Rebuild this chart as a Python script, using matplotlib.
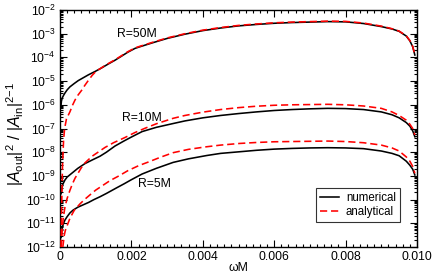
import numpy as np
import matplotlib
matplotlib.use("Agg")
import matplotlib.pyplot as plt
from matplotlib.ticker import MultipleLocator, LogLocator, NullFormatter
from matplotlib.lines import Line2D

plt.rcParams['font.family'] = ['Liberation Sans', 'DejaVu Sans']
plt.rcParams['mathtext.fontset'] = 'custom'
plt.rcParams['mathtext.rm'] = 'Liberation Sans'
plt.rcParams['mathtext.it'] = 'Liberation Sans:italic'

# ---- data (log10 values) ----
x50_num = [0.00003, 0.00004, 0.00006, 0.0001, 0.00014, 0.0002, 0.00028, 0.0004, 0.00051,
           0.00065, 0.00079, 0.001, 0.00117, 0.00135, 0.00154, 0.0017, 0.0019, 0.0021,
           0.00224, 0.0026, 0.003, 0.0035, 0.004, 0.0045, 0.005, 0.0055, 0.006, 0.0065,
           0.007, 0.0075, 0.008, 0.0085, 0.009, 0.0093, 0.0095, 0.0097, 0.0098, 0.00988,
           0.00994]
l50_num = [-6.0, -5.85, -5.72, -5.6, -5.5, -5.37, -5.24, -5.1, -4.98,
           -4.86, -4.74, -4.58, -4.44, -4.28, -4.12, -3.97, -3.78, -3.62,
           -3.55, -3.38, -3.2, -3.02, -2.87, -2.76, -2.67, -2.61, -2.56, -2.53,
           -2.51, -2.49, -2.5, -2.57, -2.7, -2.8, -2.9, -3.1, -3.3, -3.55,
           -3.9]
x50_ana = [0.00003, 0.00005, 0.00007, 0.0001, 0.00013, 0.00018, 0.00028, 0.00035, 0.00042,
           0.0005, 0.00061, 0.0007, 0.00079, 0.0009, 0.001, 0.0011, 0.00126, 0.00154,
           0.0017, 0.0019, 0.0021, 0.00224, 0.0026, 0.003, 0.0035, 0.004, 0.0045, 0.005,
           0.0055, 0.006, 0.0065, 0.007, 0.0075, 0.008, 0.0085, 0.009, 0.0093, 0.0095,
           0.0097, 0.0098, 0.00988, 0.00994]
l50_ana = [-12.0, -10.0, -8.6, -7.5, -7.0, -6.6, -6.29, -6.02, -5.8,
           -5.6, -5.38, -5.17, -4.98, -4.76, -4.6, -4.5, -4.34, -4.1,
           -3.95, -3.76, -3.6, -3.53, -3.36, -3.18, -3.0, -2.85, -2.74, -2.65,
           -2.59, -2.54, -2.51, -2.49, -2.47, -2.48, -2.55, -2.68, -2.79, -2.89,
           -3.09, -3.29, -3.54, -3.88]

x10_num = [0.00003, 0.00005, 0.00008, 0.00014, 0.0002, 0.00028, 0.00037, 0.0005, 0.0007,
           0.0009, 0.00112, 0.0013, 0.00154, 0.0018, 0.002, 0.0023, 0.0027, 0.00317,
           0.0035, 0.004, 0.0045, 0.005, 0.0055, 0.006, 0.0065, 0.007, 0.0075, 0.008,
           0.0085, 0.009, 0.0093, 0.0095, 0.0097, 0.0098, 0.00988, 0.00994]
l10_num = [-9.75, -9.55, -9.35, -9.17, -9.05, -8.95, -8.84, -8.68, -8.48,
           -8.33, -8.17, -8.0, -7.74, -7.52, -7.36, -7.13, -6.95, -6.79,
           -6.68, -6.55, -6.45, -6.37, -6.3, -6.24, -6.2, -6.17, -6.15, -6.16,
           -6.2, -6.3, -6.42, -6.55, -6.75, -6.9, -7.1, -7.35]
x10_ana = [0.00004, 0.00006, 0.00009, 0.00014, 0.0002, 0.00028, 0.00035, 0.00042, 0.0005,
           0.0006, 0.0007, 0.0009, 0.00126, 0.0015, 0.00182, 0.0021, 0.00238, 0.0027,
           0.00317, 0.0035, 0.004, 0.0045, 0.005, 0.0055, 0.006, 0.0065, 0.007, 0.0075,
           0.008, 0.0085, 0.009, 0.0093, 0.0095, 0.0097, 0.0098, 0.00988, 0.00994]
l10_ana = [-12.0, -11.3, -10.8, -10.3, -9.95, -9.6, -9.33, -9.1, -8.9,
           -8.65, -8.45, -8.17, -7.8, -7.6, -7.38, -7.17, -6.99, -6.8,
           -6.57, -6.45, -6.31, -6.2, -6.12, -6.06, -6.02, -6.0, -5.99, -5.98,
           -6.0, -6.05, -6.15, -6.3, -6.45, -6.65, -6.82, -7.0, -7.27]

x5_num = [0.00003, 0.00004, 0.00006, 0.0001, 0.00014, 0.0002, 0.00028, 0.00037, 0.0005,
          0.00065, 0.0008, 0.00095, 0.00112, 0.0013, 0.00159, 0.0018, 0.002, 0.0023,
          0.0027, 0.00317, 0.0036, 0.00411, 0.0045, 0.00504, 0.0055, 0.006, 0.0065,
          0.007, 0.0075, 0.008, 0.0085, 0.009, 0.0093, 0.0095, 0.0097, 0.0098, 0.00988,
          0.00994]
l5_num = [-11.6, -11.4, -11.2, -11.0, -10.86, -10.72, -10.56, -10.44, -10.32,
          -10.22, -10.12, -10.0, -9.88, -9.74, -9.5, -9.33, -9.16, -8.92,
          -8.68, -8.43, -8.28, -8.14, -8.05, -7.98, -7.92, -7.87, -7.84,
          -7.82, -7.81, -7.82, -7.85, -7.95, -8.05, -8.15, -8.38, -8.55, -8.72,
          -8.96]
x5_ana = [0.00008, 0.0001, 0.00012, 0.00015, 0.00019, 0.00028, 0.0004, 0.00056, 0.0007,
          0.00084, 0.001, 0.0012, 0.0014, 0.00165, 0.0019, 0.0022, 0.0025, 0.0028,
          0.00317, 0.0036, 0.00411, 0.0045, 0.00504, 0.0055, 0.006, 0.0065, 0.007,
          0.0075, 0.008, 0.0085, 0.009, 0.0093, 0.0095, 0.0097, 0.0098, 0.00988, 0.00994]
l5_ana = [-12.0, -11.75, -11.5, -11.3, -11.14, -10.78, -10.45, -10.18, -9.98,
          -9.8, -9.6, -9.4, -9.2, -9.0, -8.78, -8.57, -8.4, -8.22,
          -8.02, -7.88, -7.77, -7.7, -7.63, -7.59, -7.56, -7.55, -7.54,
          -7.53, -7.55, -7.6, -7.7, -7.82, -7.95, -8.2, -8.38, -8.6, -8.89]

labels = ["R=50M", "R=10M", "R=5M"]
label_pos = [(0.00215, 10**-3.0), (0.00228, 10**-6.55), (0.00265, 10**-9.35)]
xticks = [0, 0.002, 0.004, 0.006, 0.008, 0.010]
xticklabels = ["0", "0.002", "0.004", "0.006", "0.008", "0.010"]

fig = plt.figure(figsize=(4.36, 2.76), dpi=100)
ax = fig.add_axes([60/436, 29/276, 357/436, 237/276])

dash = (0, (4.5, 2.4))
for xn, ln, xa, la in [(x50_num, l50_num, x50_ana, l50_ana),
                       (x10_num, l10_num, x10_ana, l10_ana),
                       (x5_num, l5_num, x5_ana, l5_ana)]:
    ax.plot(xn, 10**np.array(ln), color='black', lw=1.15, zorder=3)
    ax.plot(xa, 10**np.array(la), color='red', lw=1.15, linestyle=dash, zorder=4)

for t, (px, py) in zip(labels, label_pos):
    ax.text(px, py, t, fontsize=8.8, ha='center', va='center')

ax.set_yscale('log')
ax.set_xlim(0, 0.010)
ax.set_ylim(1e-12, 1e-2)
ax.set_xticks(xticks)
ax.set_xticklabels(xticklabels)
ax.xaxis.set_minor_locator(MultipleLocator(0.0002))
ax.yaxis.set_major_locator(LogLocator(base=10, numticks=20))
ax.yaxis.set_minor_locator(LogLocator(base=10, subs=np.arange(2, 10), numticks=20))
ax.yaxis.set_minor_formatter(NullFormatter())
ax.tick_params(which='both', direction='in', top=True, right=True, labelsize=8.8, width=0.8)
ax.tick_params(which='major', length=5, pad=3)
ax.tick_params(which='minor', length=2.5)
for s in ax.spines.values():
    s.set_linewidth(1.0)

fig.text(238/436, 1 - 268/276, 'ωM', fontsize=8.8, ha='center', va='center')
fig.text(15/436, 1 - 134/276,
         r'$|A_{\rm out}|^2\ /\ |A_{\rm in}|^{2\mathrm{-}1}$', fontsize=11.5,
         ha='center', va='center', rotation=90)

handles = [Line2D([], [], color='black', lw=1.15), Line2D([], [], color='red', lw=1.15, linestyle=dash)]
leg = ax.legend(handles, ['numerical', 'analytical'], loc='lower right', fontsize=8.3,
                bbox_to_anchor=(0.952, 0.105), frameon=True, fancybox=False, handlelength=1.6,
                borderpad=0.35, labelspacing=0.2, handletextpad=0.6, borderaxespad=0)
leg.get_frame().set_edgecolor('black')
leg.get_frame().set_linewidth(0.8)

fig.savefig('out.png', dpi=100)
